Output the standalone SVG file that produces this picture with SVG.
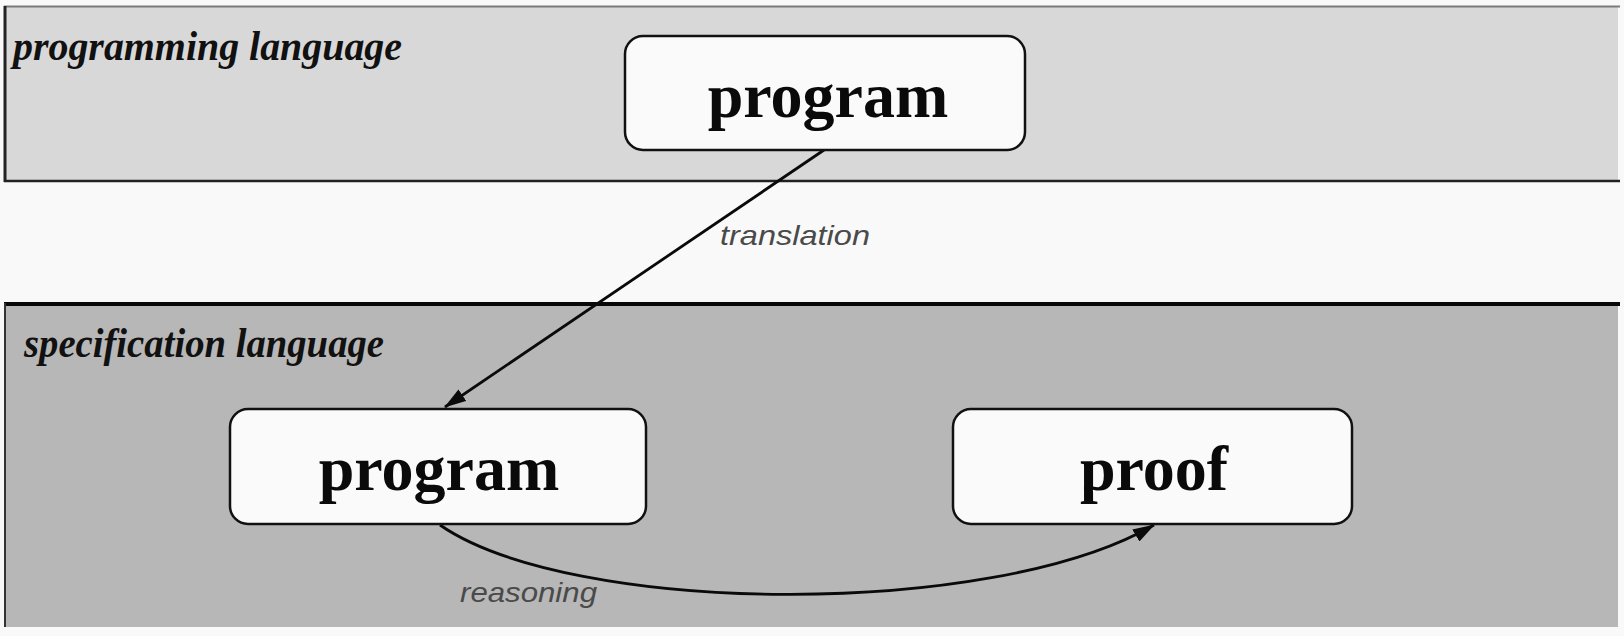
<svg xmlns="http://www.w3.org/2000/svg" width="1624" height="636" viewBox="0 0 1624 636">
<style>
.band-label{font-family:"Liberation Serif","DejaVu Serif",serif;font-weight:bold;font-style:italic;font-size:42px;fill:#111}
.node-box{fill:#fafafa;stroke:#111;stroke-width:2.5}
.node-text{font-family:"Liberation Serif","DejaVu Serif",serif;font-weight:bold;font-size:64px;fill:#0a0a0a;text-anchor:middle}
.edge{fill:none;stroke:#0a0a0a;stroke-width:2.8}
.edge-label{font-family:"Liberation Sans","DejaVu Sans",sans-serif;font-style:italic;font-size:28px;fill:#4a4a4a}
</style>
<defs>
<marker id="arrow" markerUnits="userSpaceOnUse" markerWidth="22" markerHeight="14" refX="21" refY="7" orient="auto">
<path d="M0,0 L22,7 L0,14 z" fill="#0a0a0a"/>
</marker>
</defs>
<rect x="0" y="0" width="1624" height="636" fill="#f9f9f9"/>
<g id="band-programming">
<rect x="4" y="6" width="1614" height="175" fill="#d8d8d8"/>
<line x1="4" y1="6.5" x2="1620" y2="6.5" stroke="#7a7a7a" stroke-width="2"/>
<line x1="4" y1="181" x2="1620" y2="181" stroke="#222" stroke-width="2.5"/>
<line x1="5" y1="6" x2="5" y2="182" stroke="#222" stroke-width="3"/>
<text class="band-label" x="13" y="60" textLength="389" lengthAdjust="spacingAndGlyphs">programming language</text>
</g>
<g id="band-specification">
<rect x="4" y="304" width="1614" height="323" fill="#b7b7b7"/>
<line x1="4" y1="304" x2="1620" y2="304" stroke="#080808" stroke-width="4"/>
<line x1="5" y1="303" x2="5" y2="627" stroke="#333" stroke-width="2"/>
<text class="band-label" x="24" y="357" textLength="360" lengthAdjust="spacingAndGlyphs">specification language</text>
</g>
<g id="connectors">
<line class="edge" x1="824" y1="150" x2="445" y2="407" marker-end="url(#arrow)"/>
<text class="edge-label" x="720" y="245" textLength="150" lengthAdjust="spacingAndGlyphs">translation</text>
<path class="edge" d="M440,525 C570,615 990,620 1154,525" marker-end="url(#arrow)"/>
<text class="edge-label" x="460" y="602" textLength="137" lengthAdjust="spacingAndGlyphs">reasoning</text>
</g>
<g id="node-program-top">
<rect class="node-box" x="625" y="36" width="400" height="114" rx="18"/>
<text class="node-text" x="828" y="117">program</text>
</g>
<g id="node-program-spec">
<rect class="node-box" x="230" y="409" width="416" height="115" rx="18"/>
<text class="node-text" x="439" y="490">program</text>
</g>
<g id="node-proof">
<rect class="node-box" x="953" y="409" width="399" height="115" rx="18"/>
<text class="node-text" x="1154" y="490">proof</text>
</g>
</svg>
